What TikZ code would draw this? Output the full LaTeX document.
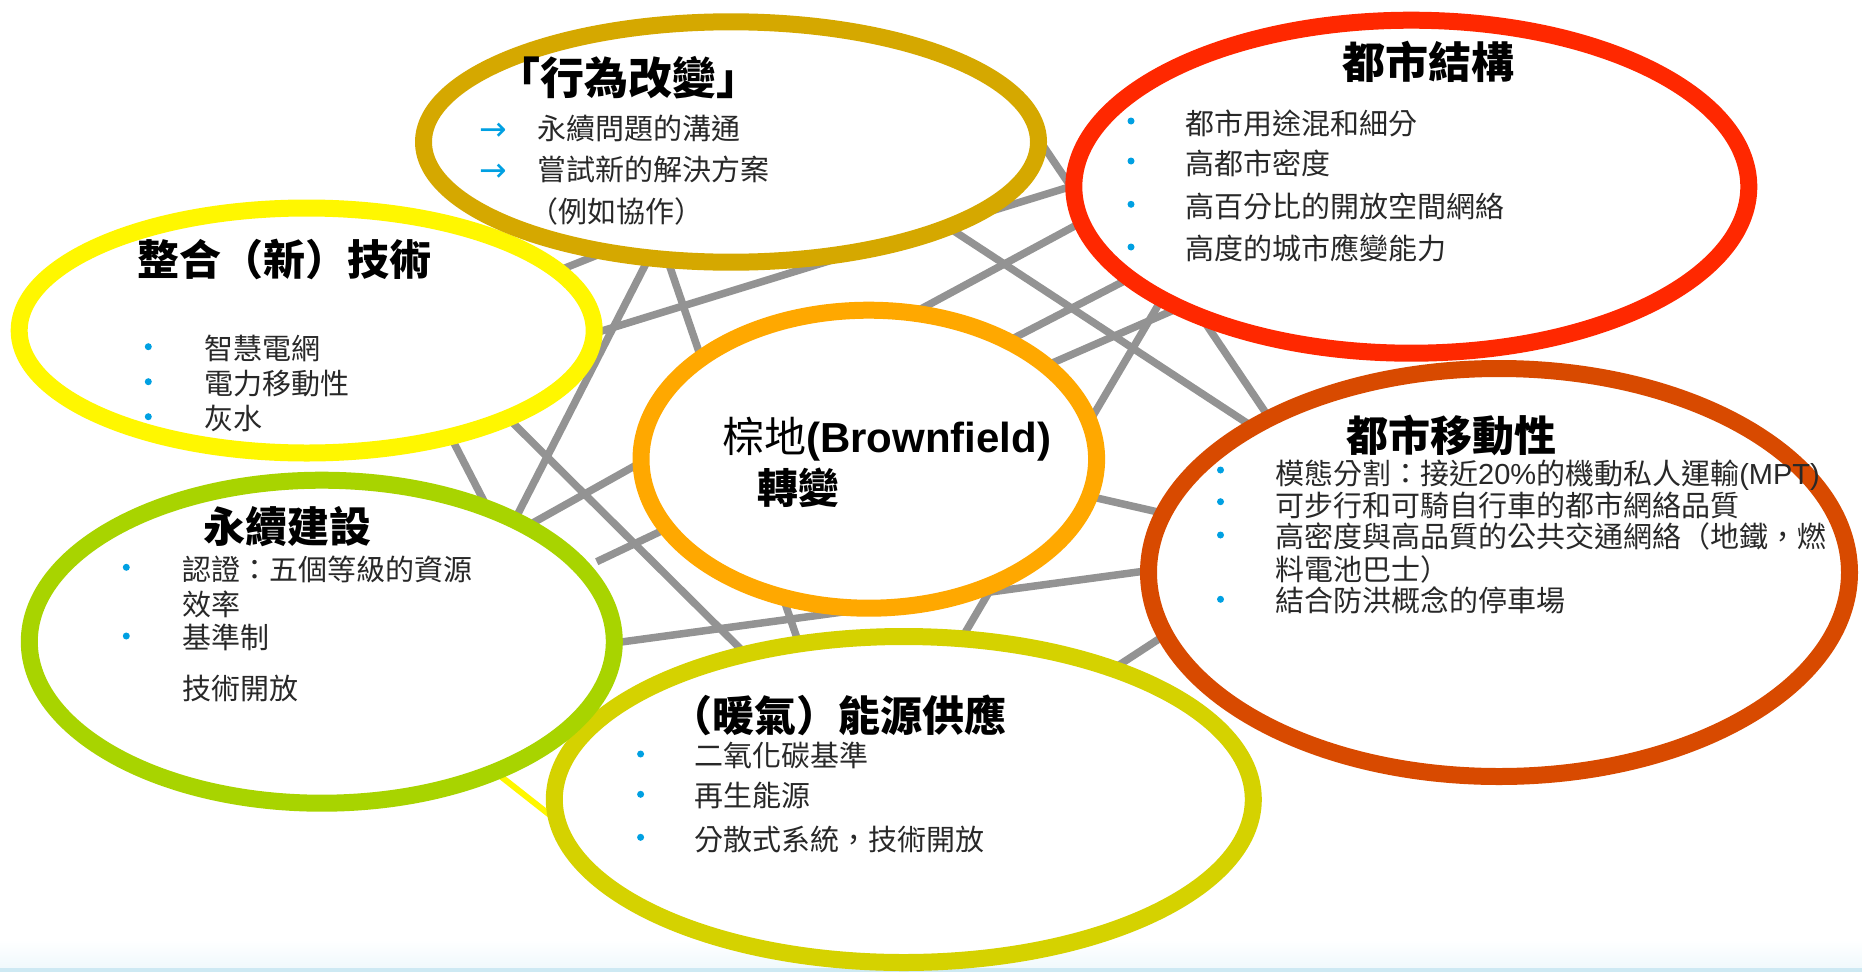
\documentclass[tikz,border=0pt]{standalone}
\usepackage{fontspec}
\usetikzlibrary{shapes.geometric}
\setmainfont{Liberation Sans}
\newfontfamily\cjk{Noto Sans CJK TC}
\newfontfamily\lat{Liberation Sans}
\newfontfamily\symf{DejaVu Sans}
\definecolor{goldc}{RGB}{213,168,0}
\definecolor{redc}{RGB}{255,40,0}
\definecolor{yelc}{RGB}{255,247,0}
\definecolor{orac}{RGB}{255,168,0}
\definecolor{mobc}{RGB}{216,74,0}
\definecolor{grnc}{RGB}{168,212,0}
\definecolor{enec}{RGB}{213,210,0}
\definecolor{linec}{RGB}{147,147,147}
\definecolor{bulc}{RGB}{0,160,226}
\definecolor{bodyc}{RGB}{40,40,40}
\definecolor{bandc}{RGB}{240,249,252}
\definecolor{bandl}{RGB}{205,233,243}
\tikzset{
  ring/.style={ellipse, draw, fill=white, line width=17pt, inner sep=0pt, outer sep=0pt},
  link/.style={draw=linec, line width=7.5pt},
  ttl/.style={anchor=base, inner sep=0pt, text=black, font={\cjk\bfseries\fontsize{42}{48}\selectfont}},
  body/.style={anchor=base west, inner sep=0pt, text=bodyc, font={\cjk\fontsize{29}{34}\selectfont}},
  bul/.style={circle, fill=bulc, inner sep=0pt, minimum size=7pt},
  arr/.style={anchor=base west, inner sep=0pt, text=bulc, font={\symf\fontsize{33}{36}\selectfont}},
}
\begin{document}
\begin{tikzpicture}[x=1pt,y=-1pt]
\useasboundingbox (0,0) rectangle (1862,972);
\fill[white] (0,0) rectangle (1862,972);
\shade[top color=white,bottom color=bandc] (0,940) rectangle (1862,968);
\fill[bandl] (0,968) rectangle (1862,972);

% connector end points (hidden under the ellipses)
\coordinate (l1a) at (500,294);    \coordinate (l1b) at (650,234);
\coordinate (l2a) at (678.5,200);  \coordinate (l2b) at (484,580);
\coordinate (l3a) at (647,200);    \coordinate (l3b) at (825,720);
\coordinate (l4a) at (540,350);    \coordinate (l4b) at (1130,168.3);
\coordinate (l5a) at (450,360.5);  \coordinate (l5b) at (790,698);
\coordinate (l6a) at (1032.5,130); \coordinate (l6b) at (1093.4,220);
\coordinate (l7a) at (900,195.7);  \coordinate (l7b) at (1300,457.8);
\coordinate (l8a) at (1183,290);   \coordinate (l8b) at (1290.8,450);
\coordinate (l9a) at (880,331);    \coordinate (l9b) at (1130,196.2);
\coordinate (l10a) at (960,365.9); \coordinate (l10b) at (1180,252.2);
\coordinate (l11a) at (990,390.2); \coordinate (l11b) at (1230,285.5);
\coordinate (l12a) at (925.4,700); \coordinate (l12b) at (1184.8,260);
\coordinate (l13a) at (431.8,400); \coordinate (l13b) at (504,540);
\coordinate (l14a) at (480,552.5); \coordinate (l14b) at (700,429.4);
\coordinate (l15a) at (596.7,561.7); \coordinate (l15b) at (700,512.7);
\coordinate (l16a) at (560,650.3); \coordinate (l16b) at (1200,563.6);
\coordinate (l17a) at (1040,485);  \coordinate (l17b) at (1220,526.2);
\coordinate (l18a) at (1080,690.5); \coordinate (l18b) at (1220,599.1);
\coordinate (l19a) at (460,744.3); \coordinate (l19b) at (600,854.4);

\foreach \i in {1,...,18}{\draw[link] (l\i a) -- (l\i b);}
\draw[draw=yelc, line width=6pt] (l19a) -- (l19b);

% ellipses
\node[ring, draw=yelc,  minimum width=575pt, minimum height=245pt]   (tech) at (306.7,330.5) {};
\node[ring, draw=goldc, minimum width=615pt, minimum height=240.4pt] (beh)  at (731,142) {};
\node[ring, draw=redc,  minimum width=675pt, minimum height=333pt]   (urb)  at (1411.3,186.7) {};
\node[ring, draw=orac,  minimum width=455.6pt, minimum height=298pt] (bro)  at (868.8,459.2) {};
\node[ring, draw=mobc,  minimum width=701pt, minimum height=408pt]   (mob)  at (1499,572.5) {};
\node[ring, draw=enec,  minimum width=699pt, minimum height=326pt]   (ene)  at (903.8,799.5) {};
\node[ring, draw=grnc,  minimum width=585pt, minimum height=323pt]   (grn)  at (321.8,641.7) {};

% behaviour change
\node[ttl, font={\cjk\bfseries\fontsize{44}{50}\selectfont}] (behT) at (628.5,94.2) {「行為改變」};
\node[arr] (behA1) at (479,140.5) {→};
\node[arr] (behA2) at (479,181.2) {→};
\node[body] (beh1) at (537.5,139.3) {永續問題的溝通};
\node[body] (beh2) at (537.5,180.7) {嘗試新的解決方案};
\node[body] (beh3) at (529,222.7) {（例如協作）};

% integrated technology
\node[ttl] (techT) at (284.7,275) {整合（新）技術};
\node[bul] (techB1) at (148.3,346.7) {};
\node[bul] (techB2) at (148.3,381.7) {};
\node[bul] (techB3) at (148.3,416.7) {};
\node[body] (tech1) at (204,359.3) {智慧電網};
\node[body] (tech2) at (204,394.3) {電力移動性};
\node[body] (tech3) at (204,429.3) {灰水};

% urban structure
\node[ttl, font={\cjk\bfseries\fontsize{43}{48}\selectfont}] (urbT) at (1428.2,78.3) {都市結構};
\node[bul] (urbB1) at (1131,121) {};
\node[bul] (urbB2) at (1131,161) {};
\node[bul] (urbB3) at (1131,204.3) {};
\node[bul] (urbB4) at (1131,247) {};
\node[body] (urb1) at (1185,134.3) {都市用途混和細分};
\node[body] (urb2) at (1185,174.3) {高都市密度};
\node[body] (urb3) at (1185,217.7) {高百分比的開放空間網絡};
\node[body] (urb4) at (1185,259.3) {高度的城市應變能力};

% brownfield
\node[anchor=base west, inner sep=0pt, text=black, font={\fontsize{42}{48}\selectfont}] (bro1) at (722,452) {{\cjk 棕地}{\lat\bfseries (Brownfield)}};
\node[anchor=base west, inner sep=0pt, text=black, font={\cjk\bfseries\fontsize{41}{48}\selectfont}] (bro2) at (757,503) {轉變};

% urban mobility
\node[ttl] (mobT) at (1451,451) {都市移動性};
\node[bul] (mobB1) at (1220.5,470) {};
\node[bul] (mobB2) at (1220.5,501.7) {};
\node[bul] (mobB3) at (1220.5,535) {};
\node[bul] (mobB4) at (1220.5,599.3) {};
\node[body] (mob1) at (1275,484.3) {模態分割：接近{\lat 20\%}的機動私人運輸{\lat (MPT)}};
\node[body] (mob2) at (1275,516) {可步行和可騎自行車的都市網絡品質};
\node[body] (mob3) at (1275,547.7) {高密度與高品質的公共交通網絡（地鐵，燃};
\node[body] (mob4) at (1275,580) {料電池巴士）};
\node[body] (mob5) at (1275,611) {結合防洪概念的停車場};

% sustainable building
\node[ttl] (grnT) at (287.7,542.7) {永續建設};
\node[bul] (grnB1) at (126.3,567.3) {};
\node[bul] (grnB2) at (126.3,636) {};
\node[body] (grn1) at (182,580.2) {認證：五個等級的資源};
\node[body] (grn2) at (182,615.2) {效率};
\node[body] (grn3) at (182,648.8) {基準制};
\node[body] (grn4) at (182,699.3) {技術開放};

% energy supply
\node[ttl] (eneT) at (838,731) {（暖氣）能源供應};
\node[bul] (eneB1) at (640.6,754) {};
\node[bul] (eneB2) at (640.6,794.3) {};
\node[bul] (eneB3) at (640.6,837.3) {};
\node[body] (ene1) at (694,766.8) {二氧化碳基準};
\node[body] (ene2) at (694,806.8) {再生能源};
\node[body] (ene3) at (694,850.2) {分散式系統，技術開放};
\end{tikzpicture}
\end{document}
